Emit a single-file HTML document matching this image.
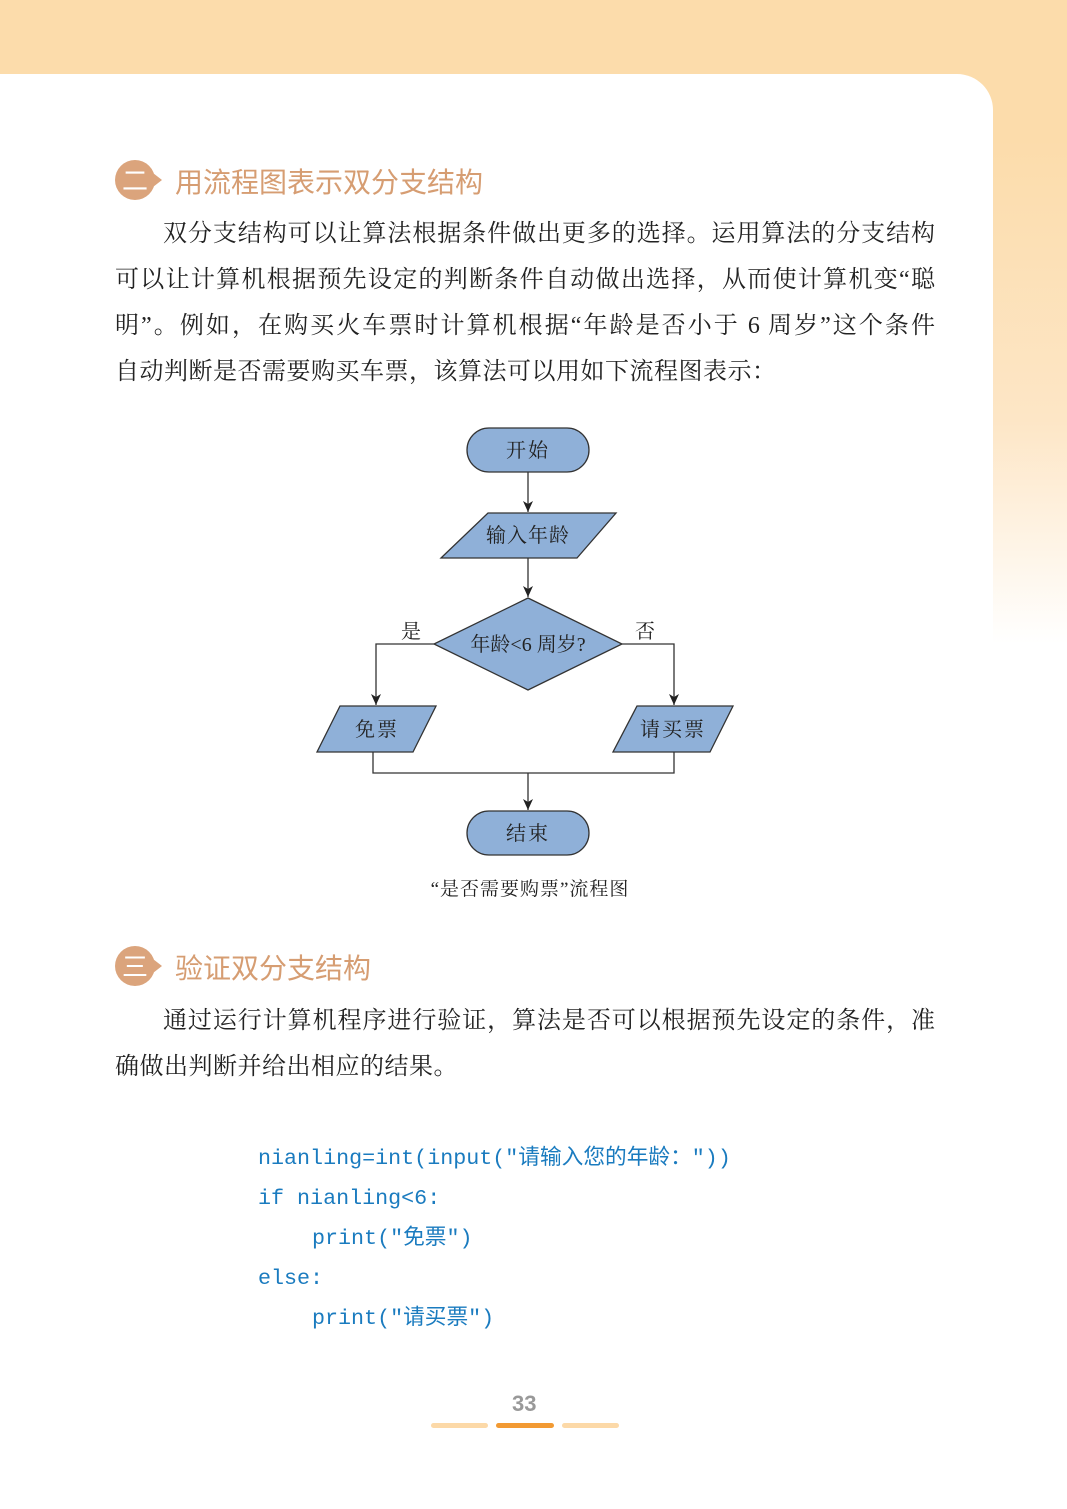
<!DOCTYPE html>
<html><head><meta charset="utf-8"><style>
body{margin:0;width:1067px;height:1509px;position:relative;overflow:hidden;background:#fff;font-family:"Liberation Serif","Noto Serif CJK SC",serif;}
.top{position:absolute;left:0;top:0;width:1067px;height:74px;background:#fcdcab;}
.side{position:absolute;left:940px;top:0;width:127px;height:700px;background:linear-gradient(#fcdcab 0,#fcdcab 20%,#fde6c6 60%,#fff 92%);}
.card{position:absolute;left:0;top:74px;width:993px;height:1435px;background:#fff;border-top-right-radius:36px;}
.abs{position:absolute;white-space:nowrap;}
.h{font-family:"Liberation Sans","Noto Sans CJK SC",sans-serif;color:#d69d72;font-size:28px;}
.ic{position:absolute;width:40px;height:40px;border-radius:50%;background:#dba47c;color:#fff;font-family:"Noto Sans CJK SC",sans-serif;font-size:26px;line-height:40px;text-align:center;}
.ic:after{content:"";position:absolute;right:-7px;top:13px;border-left:9px solid #dba47c;border-top:7px solid transparent;border-bottom:7px solid transparent;}
.p{font-size:24px;color:#222;width:820px;text-align:justify;text-align-last:justify;height:30px;line-height:30px;}
.code{font-family:"Liberation Mono","Noto Sans CJK SC",monospace;font-size:21.7px;color:#1a7bbf;height:30px;line-height:30px;}
</style></head><body>
<div class="top"></div><div class="side"></div><div class="card"></div>

<div class="ic" style="left:115px;top:160px">二</div>
<div class="abs h" style="left:175px;top:161px">用流程图表示双分支结构</div>

<div class="abs p" style="left:163px;top:219px;width:772px">双分支结构可以让算法根据条件做出更多的选择。运用算法的分支结构</div>
<div class="abs p" style="left:115px;top:265px">可以让计算机根据预先设定的判断条件自动做出选择，从而使计算机变“聪</div>
<div class="abs p" style="left:115px;top:311px">明”。例如，在购买火车票时计算机根据“年龄是否小于 6 周岁”这个条件</div>
<div class="abs p" style="left:115px;top:357px;text-align-last:left;letter-spacing:0.5px">自动判断是否需要购买车票，该算法可以用如下流程图表示：</div>

<svg class="abs" style="left:0;top:0" width="1067" height="1509" viewBox="0 0 1067 1509">
<defs><marker id="b" markerWidth="10" markerHeight="11" refX="5" refY="11" orient="0" markerUnits="userSpaceOnUse"><path d="M0,0 L5,11 L10,0 L5,3 Z" fill="#222"/></marker></defs>
<g fill="#8fb0d8" stroke="#333" stroke-width="1.3">
<rect x="467" y="428" width="122" height="44" rx="22"/>
<polygon points="488,513 616,513 577,558 441,558"/>
<polygon points="528,598 622,644 528,690 434,644"/>
<polygon points="340,706 436,706 413,752 317,752"/>
<polygon points="637,706 733,706 710,752 613,752"/>
<rect x="467" y="811" width="122" height="44" rx="22"/>
</g>
<g stroke="#333" stroke-width="1.3" fill="none">
<line x1="528" y1="472" x2="528" y2="512" marker-end="url(#b)"/>
<line x1="528" y1="558" x2="528" y2="597" marker-end="url(#b)"/>
<polyline points="434,644 376,644 376,705" marker-end="url(#b)"/>
<polyline points="622,644 674,644 674,705" marker-end="url(#b)"/>
<polyline points="373,752 373,773 674,773 674,752"/>
<line x1="528" y1="773" x2="528" y2="810" marker-end="url(#b)"/>
</g>
<g font-family="Liberation Serif,Noto Serif CJK SC,serif" font-size="20" fill="#222" text-anchor="middle">
<text x="528" y="457" letter-spacing="2">开始</text>
<text x="528" y="542" letter-spacing="1">输入年龄</text>
<text x="528" y="651">年龄&lt;6 周岁?</text>
<text x="377" y="736" letter-spacing="2">免票</text>
<text x="673" y="736" letter-spacing="2">请买票</text>
<text x="528" y="840" letter-spacing="2">结束</text>
<text x="411" y="638">是</text>
<text x="645" y="638">否</text>
<text x="530" y="895" font-size="19" letter-spacing="1">“是否需要购票”流程图</text>
</g>
</svg>

<div class="ic" style="left:115px;top:946px">三</div>
<div class="abs h" style="left:175px;top:947px">验证双分支结构</div>

<div class="abs p" style="left:163px;top:1006px;width:772px">通过运行计算机程序进行验证，算法是否可以根据预先设定的条件，准</div>
<div class="abs p" style="left:115px;top:1052px;text-align-last:left;letter-spacing:0.5px">确做出判断并给出相应的结果。</div>

<div class="abs code" style="left:258px;top:1144px">nianling=int(input("请输入您的年龄：")) </div>
<div class="abs code" style="left:258px;top:1184px">if nianling&lt;6:</div>
<div class="abs code" style="left:312px;top:1224px">print("免票")</div>
<div class="abs code" style="left:258px;top:1264px">else:</div>
<div class="abs code" style="left:312px;top:1304px">print("请买票")</div>

<div class="abs" style="left:512px;top:1391px;font-family:'Liberation Sans',sans-serif;font-weight:bold;font-size:22px;color:#999;">33</div>
<div class="abs" style="left:431px;top:1423px;width:57px;height:5px;border-radius:3px;background:#fcd9a8"></div>
<div class="abs" style="left:496px;top:1423px;width:58px;height:5px;border-radius:3px;background:#f29a33"></div>
<div class="abs" style="left:562px;top:1423px;width:57px;height:5px;border-radius:3px;background:#fcd9a8"></div>
</body></html>
